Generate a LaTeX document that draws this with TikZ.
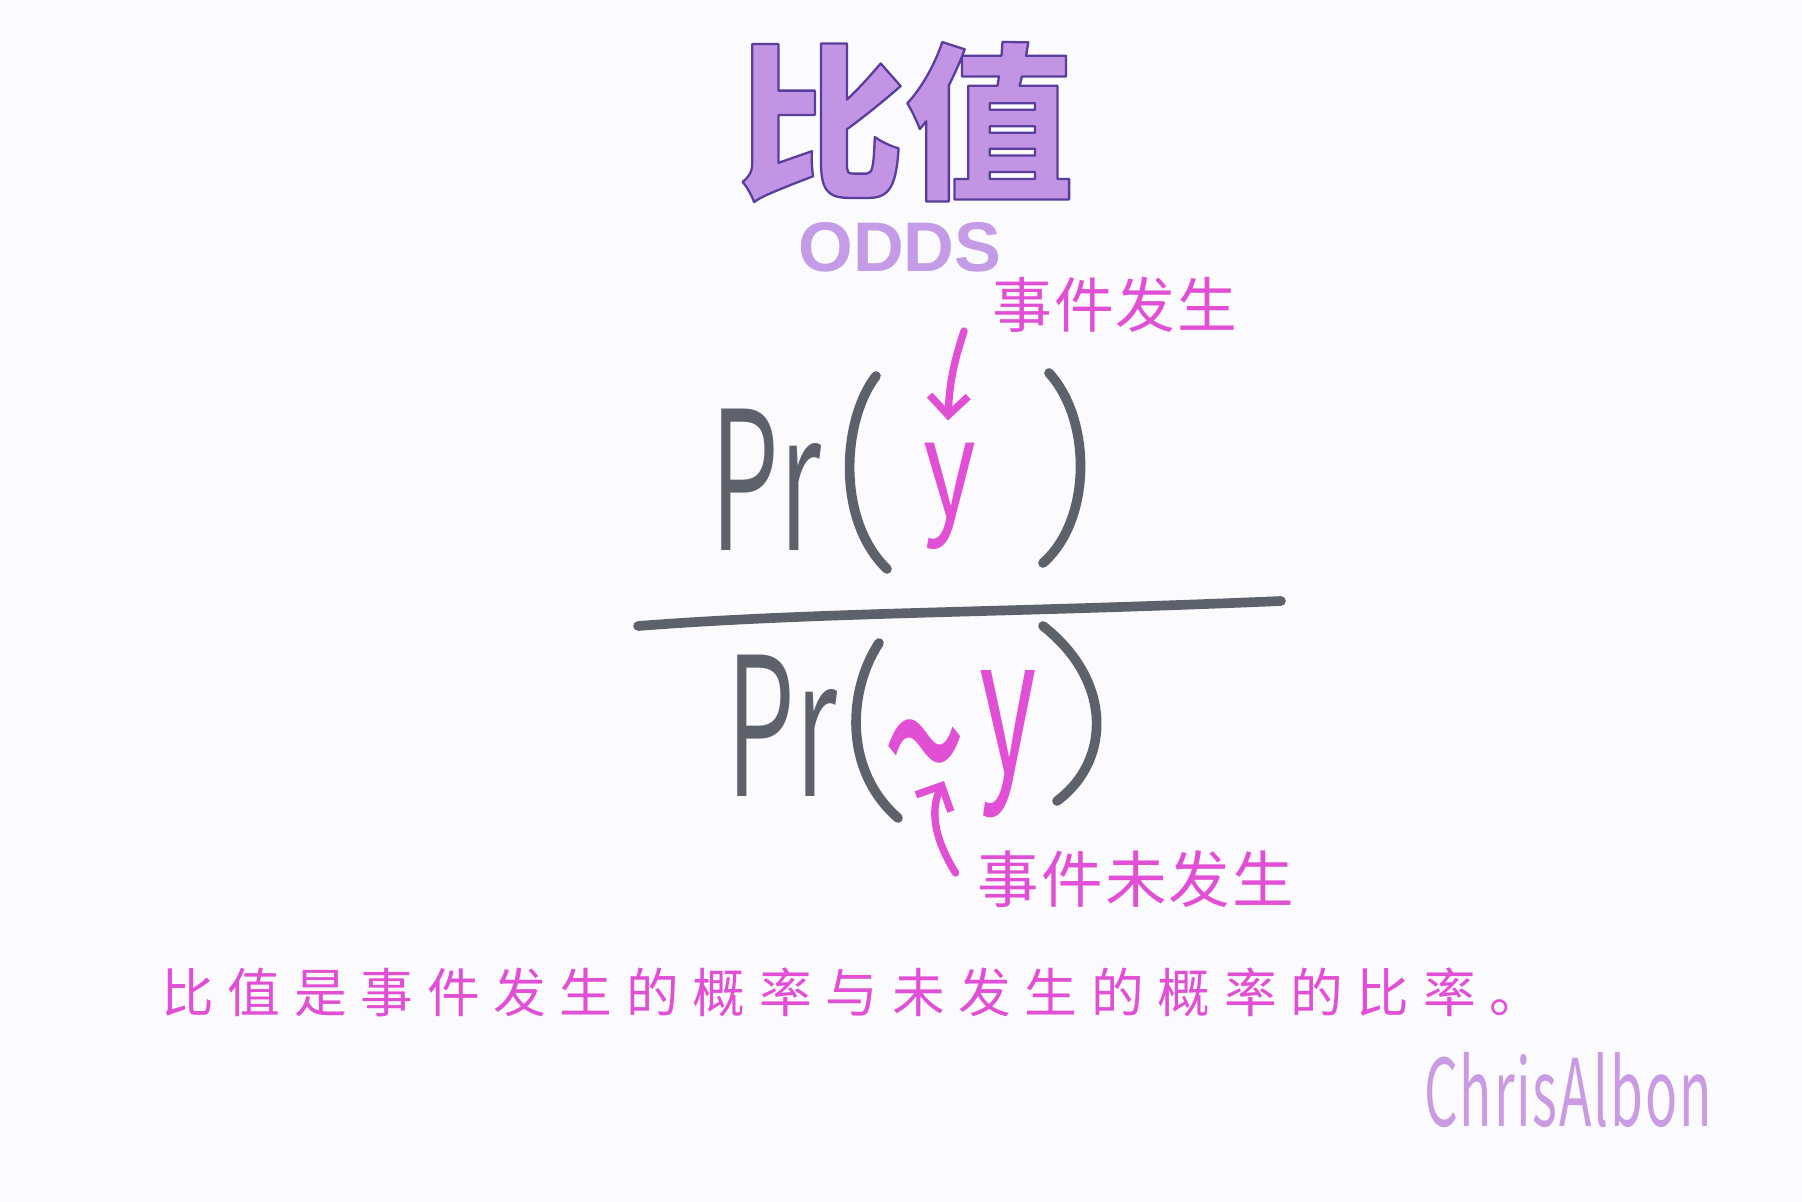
\documentclass[tikz,border=0pt]{standalone}
\usepackage{fontspec}
\usepackage{graphicx}
\usetikzlibrary{arrows.meta,calc,positioning}
\newfontfamily\handcjk[LetterSpace=3.5]{Noto Sans CJK SC}
\newfontfamily\widecjk[LetterSpace=26]{Noto Sans CJK SC}
\newfontfamily\chalkpen{Noto Sans CJK SC DemiLight}
\newfontfamily\blockcjk{Noto Sans CJK SC Black}
\newfontfamily\oddsfont{Liberation Sans}
\definecolor{paper}{HTML}{FBFBFD}
\definecolor{inkgray}{HTML}{5D616C}
\definecolor{penpink}{HTML}{E14FD4}
\definecolor{titlefill}{HTML}{C194E4}
\definecolor{oddsfill}{HTML}{C49BE6}
\definecolor{signlilac}{HTML}{C99BE2}
% outlined heading: fill with titlefill, stroke in dark purple
\newcommand{\edgedtext}[1]{\special{pdf:literal direct 2 Tr 1.3 w 0.353 0.243 0.620 RG}#1\special{pdf:literal direct 0 Tr}}

\begin{document}
\begin{tikzpicture}[x=0.02cm, y=-0.02cm, line join=round, line cap=round,
	ink/.style={draw=inkgray, line width=5.5pt},
	penarrow/.style={draw=penpink, line width=4.2pt, -{Straight Barb[length=11pt,width=22pt]}},
	hand/.style={inner sep=0pt, text=penpink},
	chalk/.style={inner sep=0pt, text=inkgray}]
	\fill[paper] (0,0) rectangle (1802,1202);
	\useasboundingbox (0,0) rectangle (1802,1202);
	% heading
	\node[inner sep=0pt, text=titlefill] (title) at (905,122)
		{\fontsize{96}{96}\blockcjk\edgedtext{比值}};
	\node[inner sep=0pt, text=oddsfill] (odds) at (900,247)
		{\fontsize{40}{40}\oddsfont\bfseries ODDS};
	% numerator and denominator
	\node[chalk] (prTop) at (766,480) {\fontsize{110}{110}\chalkpen\scalebox{0.57}[1]{Pr}};
	\node[hand] (yTop) at (950,496) {\fontsize{78}{78}\handcjk\scalebox{0.74}[1]{y}};
	\node[chalk] (prBot) at (782,726) {\fontsize{110}{110}\chalkpen\scalebox{0.57}[1]{Pr}};
	\node[hand, anchor=base] (tildeMark) at (925,839)
		{\fontsize{108}{108}\handcjk\scalebox{0.8}[1.4]{\textasciitilde}};
	\node[hand] (yBot) at (1008,744) {\fontsize{108}{108}\handcjk\scalebox{0.58}[1]{y}};
	\draw[ink] (876,376) .. controls (842,420) and (836,520) .. (887,569);
	\draw[ink] (1049,373) .. controls (1092,420) and (1092,520) .. (1043,563);
	\draw[ink] (879,643) .. controls (848,690) and (843,770) .. (898,818);
	\draw[ink] (1043,626) .. controls (1112,680) and (1112,760) .. (1057,801);
	\draw[ink] (638,626) .. controls (820,612) and (1000,613) .. (1281,601);
	% labels
	\node[hand] (occur) at (1115,305) {\fontsize{34}{34}\handcjk 事件发生};
	\node[hand] (notOccur) at (1136,879) {\fontsize{35}{35}\handcjk 事件未发生};
	\node[hand] (summary) at (852,992)
		{\fontsize{30}{30}\widecjk 比值是事件发生的概率与未发生的概率的比率。};
	\node[inner sep=0pt, text=signlilac] (sign) at (1568,1090)
		{\fontsize{53}{53}\handcjk\scalebox{0.57}[1]{ChrisAlbon}};
	% arrows
	\coordinate (occurTail) at ($(occur.south west)+(-28,-2)$);
	\coordinate (occurHead) at ($(yTop.north)+(-2,-22)$);
	\draw[penarrow] (occurTail) to[bend right=8] (occurHead);
	\coordinate (missTail) at ($(notOccur.west)+(-22,-6)$);
	\coordinate (missHead) at ($(yBot.west)+(-35,37)$);
	\draw[penarrow] (missTail) .. controls +(-25,-40) and +(-12,25) .. (missHead);
\end{tikzpicture}
\end{document}
